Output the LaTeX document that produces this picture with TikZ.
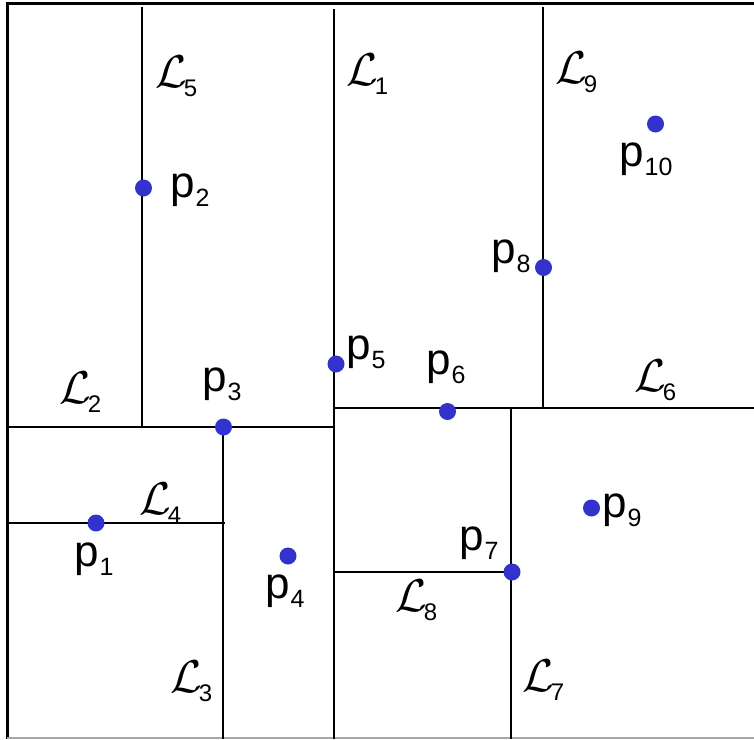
\documentclass[tikz,border=0pt]{standalone}
\usepackage{fontspec}
\setmainfont{Liberation Sans}
\definecolor{ptblue}{RGB}{50,50,205}
\newcommand\Lsub[1]{\scalebox{4.6}{$\mathcal{L}$}\kern-3pt\raisebox{-9pt}{\fontsize{24}{24}\selectfont #1}}
\newcommand\Psub[1]{{\fontsize{44}{44}\selectfont p}\kern1pt\raisebox{-9pt}{\fontsize{25}{25}\selectfont #1}}
\tikzset{
  seg/.style={line width=2.2pt, black},
  frame/.style={line width=3pt, black},
  ptdot/.style={circle, fill=ptblue, inner sep=0pt, minimum size=17pt},
  lab/.style={inner sep=0pt, anchor=base west},
}
\begin{document}
\begin{tikzpicture}[x=1pt,y=-1pt]
\useasboundingbox (0,0) rectangle (754,739);
\fill[white] (0,0) rectangle (754,739);
% frame
\draw[frame] (6,3) -- (754,3);
\draw[frame] (7.5,3) -- (7.5,739);
\draw[line width=1.3pt, black!35] (7,738) -- (754,738);
% partition lines
\draw[seg] (334,9) -- (334,739);        % L1
\draw[seg] (7,427) -- (334,427);        % L2
\draw[seg] (223,427) -- (223,739);      % L3
\draw[seg] (7,523) -- (225,523);        % L4
\draw[seg] (142,7) -- (142,427);        % L5
\draw[seg] (334,408) -- (754,408);      % L6
\draw[seg] (511,408) -- (511,739);      % L7
\draw[seg] (334,572) -- (511,572);      % L8
\draw[seg] (543,7) -- (543,408);        % L9
% points
\node[ptdot] (p1) at (96,523) {};
\node[ptdot] (p2) at (143.5,188) {};
\node[ptdot] (p3) at (223.5,427) {};
\node[ptdot] (p4) at (288,556) {};
\node[ptdot] (p5) at (336,364) {};
\node[ptdot] (p6) at (447.5,411.5) {};
\node[ptdot] (p7) at (512,572) {};
\node[ptdot] (p8) at (543.5,267.5) {};
\node[ptdot] (p9) at (591.5,508) {};
\node[ptdot] (p10) at (655.5,124) {};
% point labels
\node[lab] (t1) at (74,566) {\Psub{1}};
\node[lab] (t2) at (170,197) {\Psub{2}};
\node[lab] (t3) at (202,391) {\Psub{3}};
\node[lab] (t4) at (265,598) {\Psub{4}};
\node[lab] (t5) at (346,359) {\Psub{5}};
\node[lab] (t6) at (426,374) {\Psub{6}};
\node[lab] (t7) at (459,550) {\Psub{7}};
\node[lab] (t8) at (491,263) {\Psub{8}};
\node[lab] (t9) at (602,517) {\Psub{9}};
\node[lab] (t10) at (619,166) {\Psub{10}};
% line labels
\node[lab] (l1) at (346,85) {\Lsub{1}};
\node[lab] (l2) at (59,403) {\Lsub{2}};
\node[lab] (l3) at (170,692) {\Lsub{3}};
\node[lab] (l4) at (139,514) {\Lsub{4}};
\node[lab] (l5) at (155,87) {\Lsub{5}};
\node[lab] (l6) at (634,391) {\Lsub{6}};
\node[lab] (l7) at (522,691) {\Lsub{7}};
\node[lab] (l8) at (395,611) {\Lsub{8}};
\node[lab] (l9) at (555,83) {\Lsub{9}};
\end{tikzpicture}
\end{document}
